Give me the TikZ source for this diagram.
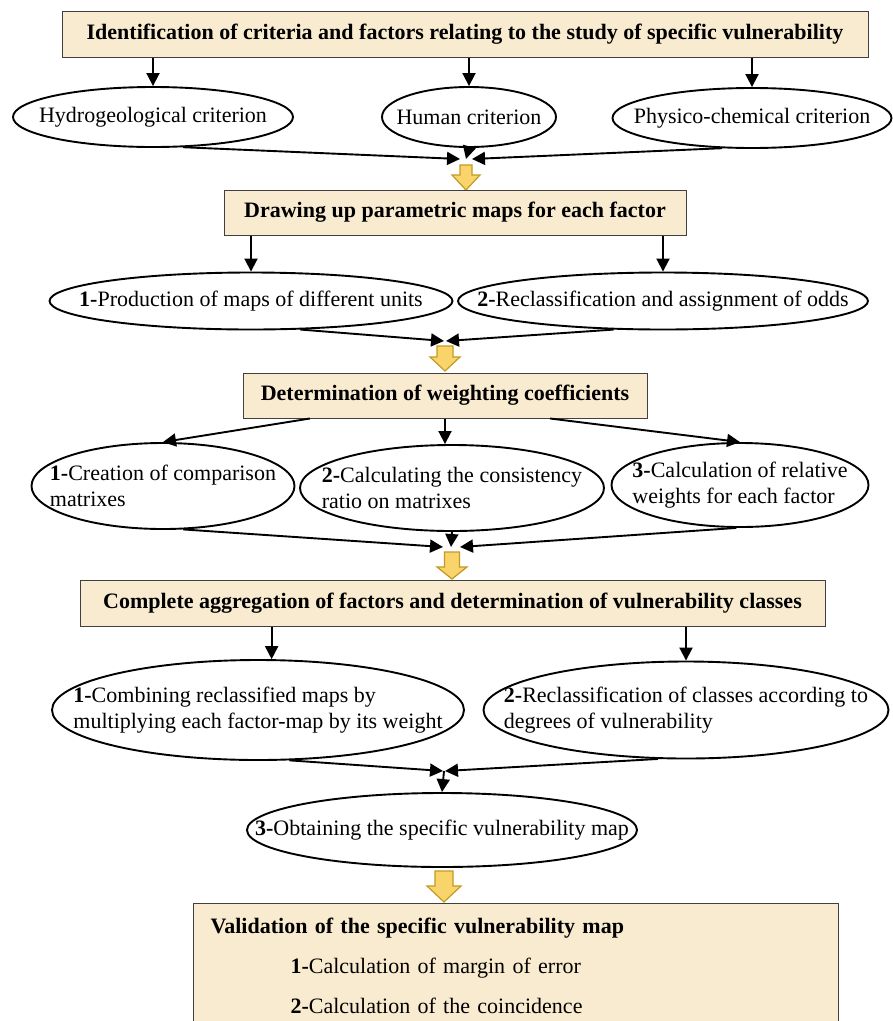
\documentclass[tikz,border=0pt]{standalone}
\usepackage{fontspec}
\setmainfont{Liberation Serif}
\usepackage{tikz}
\usetikzlibrary{arrows.meta,shapes.geometric}
\definecolor{PaperFill}{HTML}{F9EBCF}
\definecolor{ArrowGold}{HTML}{C39A24}
\definecolor{ArrowYellow}{HTML}{F9D46B}
\definecolor{ArrowTan}{HTML}{D9C49B}

\begin{document}
\begin{tikzpicture}[x=1pt,y=-1pt,font=\fontsize{22}{26}\selectfont,>={Triangle[length=13pt,width=13pt]},
  stagebox/.style={draw=black!75,line width=1pt,fill=PaperFill,inner sep=0pt,font=\fontsize{22}{26}\selectfont\bfseries},
  crit/.style={draw,ellipse,line width=1.9pt,inner sep=0pt},
  link/.style={->,line width=1.9pt},
  fatarrow/.style={draw=ArrowGold,fill=ArrowYellow,line width=1.2pt,line join=miter},
  pics/fatdown/.style n args={4}{code={%
    \draw[fatarrow,pic actions] (-#1,0) -- (#1,0) -- (#1,#3) -- (#2,#3) -- (0,#3+#4) -- (-#2,#3) -- (-#1,#3) -- cycle;}}]
\useasboundingbox (0,0) rectangle (893,1021);
\clip (0,0) rectangle (893,1021);
% stage 1
\node[stagebox,minimum width=806pt,minimum height=46pt] (ident) at (465,34) {Identification of criteria and factors relating to the study of specific vulnerability};
\node[crit,minimum width=280pt,minimum height=60pt,label={center:Hydrogeological criterion}] (hydro) at (153,117) {};
\node[crit,minimum width=174pt,minimum height=60pt,label={center:Human criterion}] (human) at (469,117) {};
\node[crit,minimum width=279pt,minimum height=60pt,label={center:Physico-chemical criterion}] (physico) at (752,118) {};
\draw[link] (ident.south -| hydro.north) -- (hydro.north);
\draw[link] (ident.south -| human.north) -- (human.north);
\draw[link] (ident.south -| physico.north) -- (physico.north);
\coordinate (j1w) at (460,159);
\coordinate (j1n) at (466,159);
\coordinate (j1e) at (472,159);
\draw[link] (hydro.-45) -- (j1w);
\draw[link] (human.south) -- (j1n);
\draw[link] (physico.-135) -- (j1e);
\pic[fill=ArrowTan] (flow1) at (466,165) {fatdown={6}{14}{10}{15}};
% stage 2
\node[stagebox,minimum width=462pt,minimum height=45pt] (maps) at (455,212.5) {Drawing up parametric maps for each factor};
\node[crit,minimum width=403pt,minimum height=57pt,label={center:{\textbf{1-}Production of maps of different units}}] (produce) at (251,301) {};
\node[crit,minimum width=410pt,minimum height=57pt,label={center:{\textbf{2-}Reclassification and assignment of odds}}] (reclass) at (663,301) {};
\draw[link] (maps.south -| produce.north) -- (produce.north);
\draw[link] (maps.south -| reclass.north) -- (reclass.north);
\coordinate (j2w) at (444,341);
\coordinate (j2e) at (446,341);
\draw[link] (produce.-30) -- (j2w);
\draw[link] (reclass.-150) -- (j2e);
\pic (flow2) at (445,346) {fatdown={8}{15}{11}{14}};
% stage 3
\node[stagebox,minimum width=404pt,minimum height=45pt] (weights) at (445,395.5) {Determination of weighting coefficients};
\node[crit,minimum width=263pt,minimum height=86pt,label={[align=left]center:{\textbf{1-}Creation of comparison\\matrixes}}] (compare) at (163,486) {};
\node[crit,minimum width=304pt,minimum height=86pt,label={[align=left]center:{\textbf{2-}Calculating the consistency\\ratio on matrixes}}] (consist) at (452,488) {};
\node[crit,minimum width=257pt,minimum height=84pt,label={[align=left]center:{\textbf{3-}Calculation of relative\\weights for each factor}}] (relweight) at (740,485) {};
\draw[link] ([xshift=-135pt]weights.south) -- (compare.north);
\draw[link] (weights.south) -- (weights.south |- consist.north);
\draw[link] ([xshift=105pt]weights.south) -- (relweight.north);
\coordinate (j3w) at (443,547);
\coordinate (j3n) at (451,547);
\coordinate (j3e) at (460,547);
\draw[link] (compare.-65) -- (j3w);
\draw[link] (consist.south) -- (j3n);
\draw[link] (relweight.-95) -- (j3e);
\pic (flow3) at (452,552) {fatdown={7.5}{15}{15}{12}};
% stage 4
\node[stagebox,minimum width=745pt,minimum height=46pt] (aggreg) at (452.5,603) {Complete aggregation of factors and determination of vulnerability classes};
\node[crit,minimum width=412pt,minimum height=100pt,label={[align=left]center:{\textbf{1-}Combining reclassified maps by\\multiplying each factor-map by its weight}}] (combine) at (258,710) {};
\node[crit,minimum width=405pt,minimum height=97pt,label={[align=left]center:{\textbf{2-}Reclassification of classes according to\\degrees of vulnerability}}] (degrees) at (686,710) {};
\draw[link] (aggreg.south -| combine.75) -- (combine.75);
\draw[link] (aggreg.south -| degrees.north) -- (degrees.north);
\coordinate (j4w) at (443,771);
\coordinate (j4) at (444,771);
\coordinate (j4e) at (445,771);
\draw[link] (combine.-58) -- (j4w);
\draw[link] (degrees.-120) -- (j4e);
\node[crit,minimum width=390pt,minimum height=74pt,label={center:{\textbf{3-}Obtaining the specific vulnerability map}}] (obtain) at (442,830) {};
\draw[link] (j4) -- (obtain.north);
\pic (flow4) at (444,871) {fatdown={9}{17}{15}{16}};
% validation
\node[stagebox,font=\fontsize{22}{26}\selectfont,anchor=north west,minimum width=645pt,minimum height=124pt,text width=611pt,inner xsep=17pt,align=left] (valid) at (193,903)
  {\textbf{Validation of the specific vulnerability map}\\[14pt]\hspace*{80pt}\textbf{1-}Calculation of margin of error\\[14pt]\hspace*{80pt}\textbf{2-}Calculation of the coincidence};
\end{tikzpicture}
\end{document}
